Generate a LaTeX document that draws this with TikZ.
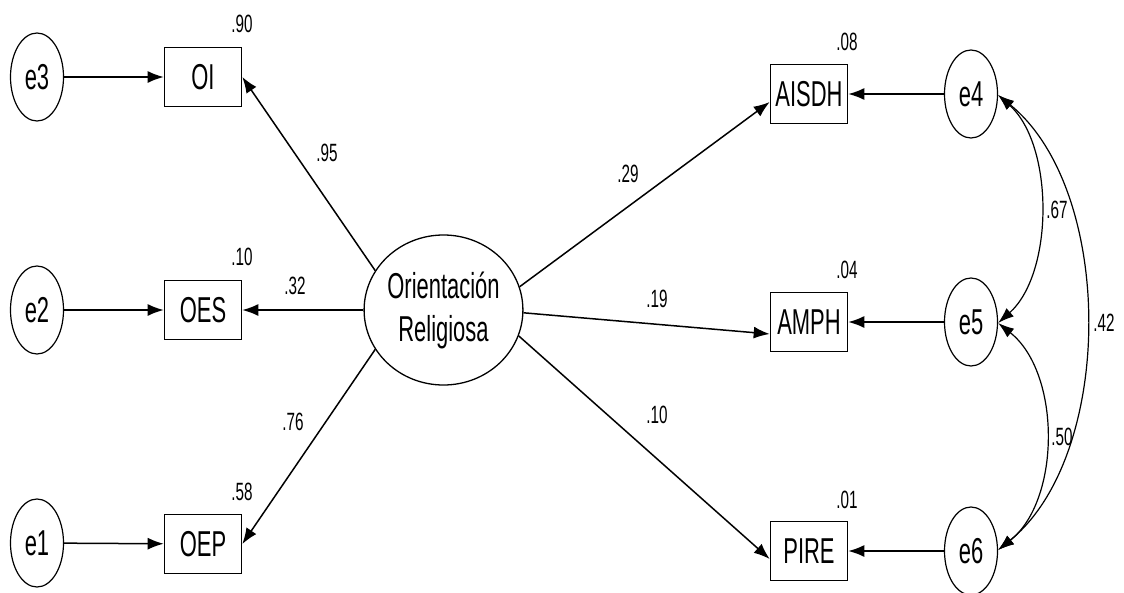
\documentclass[tikz,border=0pt]{standalone}
\usepackage{fontspec}
\setmainfont[FakeStretch=0.61]{Liberation Sans}
\usetikzlibrary{arrows.meta,shapes.geometric}
\begin{document}
\begin{tikzpicture}[x=1pt,y=-1pt,
  obs/.style={draw, line width=1.6pt, minimum width=77pt, minimum height=59pt, inner sep=0pt, font=\fontsize{36}{43}\selectfont},
  err/.style={draw, ellipse, line width=1.2pt, minimum width=53pt, minimum height=88pt, inner sep=0pt, font=\fontsize{36}{43}\selectfont},
  lat/.style={draw, ellipse, line width=1.3pt, minimum width=147pt, minimum height=150pt, inner sep=0pt, align=center, font=\fontsize{36}{43}\selectfont},
  lbl/.style={inner sep=0pt, font=\fontsize{25}{30}\selectfont},
  pth/.style={line width=1.5pt, -{Latex[length=16pt,width=12pt]}},
  cov/.style={line width=1.2pt, {Latex[length=16pt,width=11pt]}-{Latex[length=16pt,width=11pt]}}
]
\useasboundingbox (0,0) rectangle (1124,592);
\fill[white] (0,0) rectangle (1124,592);

% error terms left
\node[err] (e3) at (37,77) {e3};
\node[err] (e2) at (37,310) {e2};
\node[err] (e1) at (37,543) {e1};
% observed left
\node[obs] (OI) at (203,77) {OI};
\node[obs] (OES) at (203,310) {OES};
\node[obs] (OEP) at (203,544) {OEP};
% latent
\node[lat] (R) at (443.5,310) {Orientación\\Religiosa};
% observed right
\node[obs] (AISDH) at (809,94) {AISDH};
\node[obs] (AMPH) at (809,322) {AMPH};
\node[obs] (PIRE) at (809,551) {PIRE};
% error terms right
\node[err] (e4) at (971,94) {e4};
\node[err] (e5) at (971,322) {e5};
\node[err] (e6) at (971,551) {e6};

% error paths
\draw[pth] (e3) -- (OI);
\draw[pth] (e2) -- (OES);
\draw[pth] (e1) -- (OEP);
\draw[pth] (e4) -- (AISDH);
\draw[pth] (e5) -- (AMPH);
\draw[pth] (e6) -- (PIRE);

% loadings
\draw[pth] (R.150) -- (OI.east);
\draw[pth] (R.180) -- (OES.east);
\draw[pth] (R.210) -- (OEP.east);
\draw[pth] (R.17) -- ([yshift=-8pt]AISDH.west);
\draw[pth] (R.-2) -- ([yshift=-12pt]AMPH.west);
\draw[pth] (R.-19) -- ([yshift=-8pt]PIRE.west);

% covariances
\draw[cov] ([yshift=-1pt]e4.east) .. controls +(56,50) and +(56,-50) .. ([yshift=-1pt]e5.east);
\draw[cov] ([yshift=-1pt]e4.east) .. controls +(117,95) and +(117,-95) .. ([yshift=1pt]e6.east);
\draw[cov] ([yshift=-1pt]e5.east) .. controls +(63,50) and +(63,-50) .. ([yshift=1pt]e6.east);

% squared multiple correlations
\node[lbl] (r1) at (242,24) {.90};
\node[lbl] (r2) at (242,257) {.10};
\node[lbl] (r3) at (242,492) {.58};
\node[lbl] (r4) at (847,42) {.08};
\node[lbl] (r5) at (847,270) {.04};
\node[lbl] (r6) at (847,500) {.01};
% loadings labels
\node[lbl] (l1) at (327,153) {.95};
\node[lbl] (l2) at (295,286) {.32};
\node[lbl] (l3) at (293,422) {.76};
\node[lbl] (l4) at (628,174) {.29};
\node[lbl] (l5) at (657,299) {.19};
\node[lbl] (l6) at (657,415) {.10};
% covariance labels
\node[lbl] (c1) at (1057,210) {.67};
\node[lbl] (c2) at (1104,323) {.42};
\node[lbl] (c3) at (1062,437) {.50};
\end{tikzpicture}
\end{document}
